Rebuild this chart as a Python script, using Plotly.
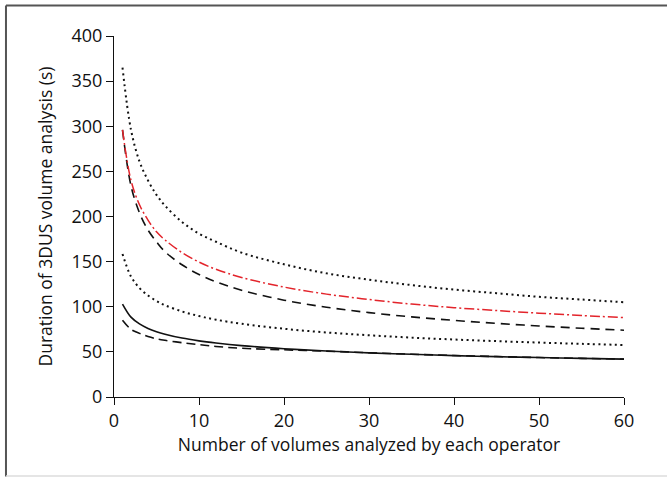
import plotly.graph_objects as go

x_vals = [1, 2, 3, 4, 5, 6, 8, 10, 12, 15, 20, 25, 30, 35, 40, 45, 50, 55, 60]

upper_dotted = [365, 296, 261, 240, 224, 212, 194, 181, 172, 160, 147, 137, 130, 124, 119, 115, 111, 108, 105]
red_dashdot = [296, 240, 213, 196, 183, 174, 160, 149.5, 141.5, 132.5, 121.8, 114, 108, 103, 99, 95.8, 92.9, 90.3, 88]
upper_dashed = [296, 234, 204, 185, 172, 161, 146.5, 135.7, 127.6, 118.3, 107.3, 99.5, 93.5, 88.8, 84.9, 81.6, 78.7, 76.2, 74]
middle_dotted = [158.4, 133.5, 120.7, 112.5, 106.4, 101.7, 94.8, 89.7, 85.7, 81.1, 75.6, 71.5, 68.4, 65.8, 63.7, 61.9, 60.3, 58.9, 57.6]
solid_line = [103, 88.5, 81, 76, 72.4, 69.6, 65.3, 62.2, 59.8, 56.9, 53.5, 50.9, 48.9, 47.3, 45.9, 44.7, 43.7, 42.8, 42]
lower_dashed = [85, 75, 70.5, 67, 64.5, 62.8, 60.2, 58, 56, 54, 52.3, 50.8, 49, 47.4, 46, 44.8, 43.7, 42.8, 42]

x_ticks = [0, 10, 20, 30, 40, 50, 60]
y_ticks = [0, 50, 100, 150, 200, 250, 300, 350, 400]

FONT = "Open Sans"

series = [
    (upper_dotted, "#111111", 2, "2px,3.5px"),
    (middle_dotted, "#111111", 2, "2px,3.5px"),
    (upper_dashed, "#111111", 1.6, "9px,6px"),
    (red_dashdot, "#e3242b", 1.5, "10px,3px,2px,3px"),
    (lower_dashed, "#111111", 1.6, "9px,5px"),
    (solid_line, "#111111", 1.6, "solid"),
]

fig = go.Figure()
for ys, col, w, dash in series:
    fig.add_trace(go.Scatter(
        x=x_vals, y=ys, mode="lines",
        line=dict(color=col, width=w, dash=dash, shape="spline", smoothing=1.0),
        showlegend=False, hoverinfo="skip",
    ))

fig.update_layout(
    width=667, height=477,
    margin=dict(l=114, r=43, t=36, b=80),
    paper_bgcolor="white", plot_bgcolor="white",
    font=dict(family=FONT, size=17, color="#111111"),
    xaxis=dict(
        range=[0, 60], tickvals=x_ticks, ticks="outside", ticklen=7, tickwidth=1,
        tickcolor="#111111", showline=True, linecolor="#111111", linewidth=1,
        showgrid=False, zeroline=False,
        title=dict(text="Number of volumes analyzed by each operator", standoff=6,
                   font=dict(family=FONT, size=17.5)),
        tickfont=dict(family=FONT, size=18),
    ),
    yaxis=dict(
        range=[0, 400], tickvals=y_ticks, ticks="outside", ticklen=7, tickwidth=1,
        tickcolor="#111111", showline=True, linecolor="#111111", linewidth=1,
        showgrid=False, zeroline=False,
        title=dict(text="Duration of 3DUS volume analysis (s)", standoff=14,
                   font=dict(family=FONT, size=17.5)),
        tickfont=dict(family=FONT, size=18),
    ),
    shapes=[
        dict(type="line", xref="paper", yref="paper", x0=-0.2118, x1=1.2, y0=1.0845, y1=1.0845,
             line=dict(color="#555555", width=2)),
        dict(type="line", xref="paper", yref="paper", x0=-0.2118, x1=-0.2118, y0=1.0845, y1=-0.22,
             line=dict(color="#555555", width=2)),
        dict(type="line", xref="paper", yref="paper", x0=-0.2118, x1=1.2, y0=-0.2188, y1=-0.2188,
             line=dict(color="#dddddd", width=1.5)),
    ],
)

fig.write_html("out.html", config={"displayModeBar": False},
               post_script="document.body.style.margin='0';")
